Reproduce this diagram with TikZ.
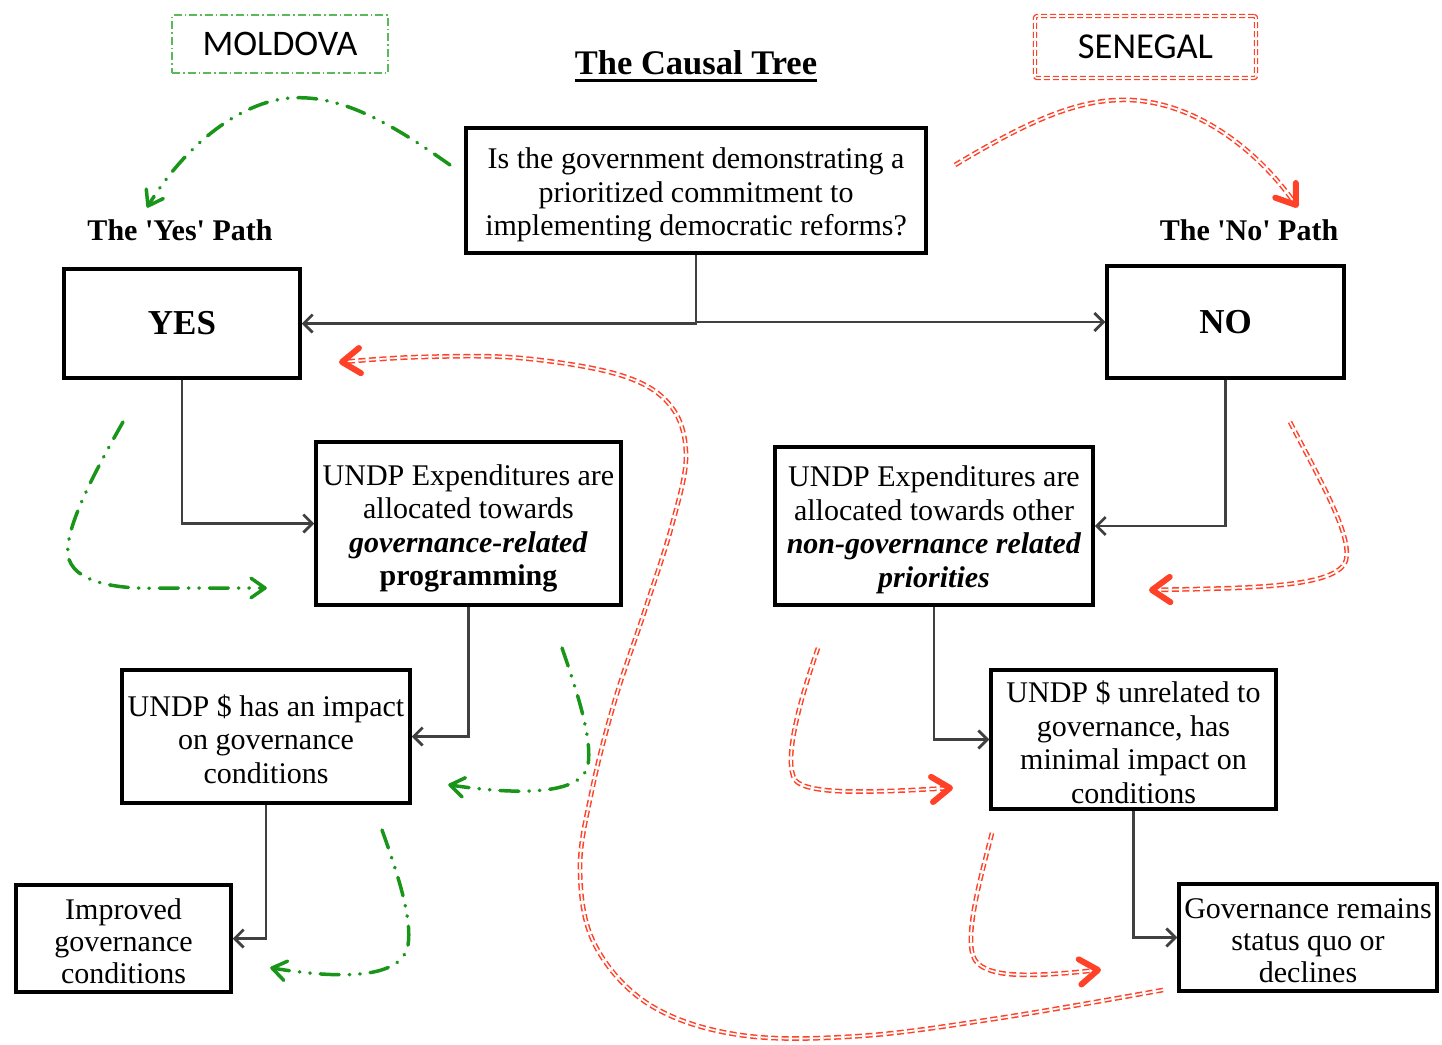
\documentclass[tikz,border=0pt]{standalone}
\usepackage{fontspec}
\setmainfont{Liberation Serif}
\newfontfamily\calibfont{Carlito}
\newfontfamily\plainserif{Liberation Serif}
\usetikzlibrary{arrows.meta,calc}
\definecolor{grn}{RGB}{25,150,25}
\definecolor{grnbox}{RGB}{90,185,90}
\definecolor{rd}{RGB}{255,65,40}
\newcommand\chevtip[4]{\draw[#1] ($(#2)!#4!35:(#3)$) -- (#2) -- ($(#2)!#4!-35:(#3)$);}
\begin{document}
\begin{tikzpicture}[x=1pt,y=-1pt,
  box/.style={draw=black, line width=3.5pt, fill=white, inner sep=0pt, align=center, font=\fontsize{30}{33.5}\selectfont},
  conn/.style={draw=black!75, line width=2.7pt, -{Straight Barb[length=9pt,width=18pt,line width=2.7pt]}},
  gpath/.style={draw=grn, line width=3.5pt, dash pattern=on 19pt off 10pt on 0.5pt off 10pt on 0.5pt off 10pt, line cap=round},
  gtip/.style={draw=grn, line width=3.5pt, line cap=round, line join=round},
  rpath/.style={draw=rd, line width=1.5pt, double=white, double distance=1.7pt, dash pattern=on 7pt off 3.5pt},
  rtip/.style={draw=rd, line width=6pt, line cap=round, line join=round},
  pathlabel/.style={inner sep=0pt, font=\plainserif\fontsize{30}{32}\selectfont\bfseries}
]
\useasboundingbox (0,0) rectangle (1442,1044);

% country labels
\node[draw=grnbox, line width=1.5pt, dash pattern=on 8pt off 3pt on 1.5pt off 3pt, minimum width=216pt, minimum height=58pt, inner sep=0pt, font=\calibfont\fontsize{36}{38}\selectfont] (moldova) at (280,44) {MOLDOVA};
\node[draw=rd, line width=1.3pt, double=white, double distance=1.6pt, dash pattern=on 6pt off 3pt, rounded corners=2pt, minimum width=221pt, minimum height=62pt, inner sep=0pt, font=\calibfont\fontsize{36.5}{38}\selectfont] (senegal) at (1145.5,47) {SENEGAL};

% title
\node[inner sep=0pt, font=\fontsize{34.5}{36}\selectfont\bfseries] (title) at (696,63) {The Causal Tree};
\draw[line width=2.7pt] ([yshift=-6pt]title.base west) -- ([yshift=-6pt]title.base east);

% path labels
\node[pathlabel] (yeslab) at (180,230) {The 'Yes' Path};
\node[pathlabel] (nolab) at (1249,230) {The 'No' Path};

% boxes
\node[box, minimum width=460pt, minimum height=125pt] (q) at (696,190.5)
  {\rule{0pt}{30pt}Is the government demonstrating a\\prioritized commitment to\\implementing democratic reforms?};
\node[box, minimum width=236pt, minimum height=109pt, font=\fontsize{35}{38}\selectfont\bfseries] (yes) at (182,323.5) {YES};
\node[box, minimum width=237pt, minimum height=112pt, font=\fontsize{35}{38}\selectfont\bfseries] (no) at (1225.5,322) {NO};
\node[box, minimum width=305pt, minimum height=163pt] (expl) at (468.5,523.5)
  {\rule{0pt}{31pt}UNDP Expenditures are\\allocated towards\\\textbf{\textit{governance-related}}\\\textbf{programming}};
\node[box, minimum width=318pt, minimum height=158pt] (expr) at (934,526)
  {\rule{0pt}{28pt}UNDP Expenditures are\\allocated towards other\\\textbf{\textit{non-governance related}}\\\textbf{\textit{priorities}}};
\node[box, minimum width=288pt, minimum height=133pt] (impl) at (266,736.5)
  {\rule{0pt}{27pt}UNDP \$ has an impact\\on governance\\conditions};
\node[box, minimum width=215pt, minimum height=107pt, font=\fontsize{30}{32}\selectfont] (impr) at (123.5,938.5)
  {\rule{0pt}{27pt}Improved\\governance\\conditions};
\node[box, minimum width=285pt, minimum height=139pt] (unrel) at (1133.5,739.5)
  {\rule{0pt}{27pt}UNDP \$ unrelated to\\governance, has\\minimal impact on\\conditions};
\node[box, minimum width=258pt, minimum height=107pt, font=\fontsize{30}{32}\selectfont] (remain) at (1308,937.5)
  {\rule{0pt}{27pt}Governance remains\\status quo or\\declines};

% connectors
\draw[conn] (q.south) |- (yes.east);
\draw[conn] (q.south) |- (no.west);
\draw[conn] (yes.south) |- (expl.west);
\draw[conn] (no.south) |- (expr.east);
\draw[conn] (expl.south) |- (impl.east);
\draw[conn] (impl.south) |- (impr.east);
\draw[conn] (expr.south) |- (unrel.west);
\draw[conn] (unrel.south) |- (remain.west);

% green (Moldova) annotation arrows
\coordinate (g1s) at (450,165); \coordinate (g1e) at (148,206); \coordinate (g1b) at (178,152);
\draw[gpath] (g1s) .. controls (380,115) and (335,95) .. (290,98) .. controls (240,102) and (185,145) .. (g1e);
\chevtip{gtip}{g1e}{g1b}{17pt}
\coordinate (g2s) at (123,422); \coordinate (g2e) at (265,588); \coordinate (g2b) at (235,588);
\draw[gpath] (g2s) .. controls (90,480) and (65,530) .. (68,555) .. controls (72,582) and (115,590) .. (165,588) -- (g2e);
\chevtip{gtip}{g2e}{g2b}{17pt}
\coordinate (g3s) at (562,648); \coordinate (g3e) at (450,785); \coordinate (g3b) at (485,791);
\draw[gpath] (g3s) .. controls (580,700) and (592,740) .. (588,765) .. controls (583,792) and (530,797) .. (g3e);
\chevtip{gtip}{g3e}{g3b}{17pt}
\coordinate (g4s) at (382,830); \coordinate (g4e) at (272,968); \coordinate (g4b) at (307,975);
\draw[gpath] (g4s) .. controls (400,880) and (412,920) .. (408,945) .. controls (402,978) and (345,980) .. (g4e);
\chevtip{gtip}{g4e}{g4b}{17pt}

% red (Senegal) annotation arrows
\coordinate (r1s) at (955,165); \coordinate (r1e) at (1296,205); \coordinate (r1b) at (1266,163);
\draw[rpath] (r1s) .. controls (1030,120) and (1080,98) .. (1130,100) .. controls (1200,103) and (1262,155) .. (r1e);
\chevtip{rtip}{r1e}{r1b}{22pt}
\coordinate (r2s) at (1163,990); \coordinate (r2e) at (342,362); \coordinate (r2b) at (380,359);
\draw[rpath] plot[smooth, tension=0.6] coordinates {(1163,990) (1000,1018) (860,1036) (740,1035) (650,1005) (595,945) (580,870) (592,790) (615,700) (645,610) (672,525) (686,455) (670,405) (620,375) (520,358) (420,357) (342,362)};
\chevtip{rtip}{r2e}{r2b}{22pt}
\coordinate (r3s) at (1290,422); \coordinate (r3e) at (1152,590); \coordinate (r3b) at (1190,589);
\draw[rpath] (r3s) .. controls (1320,480) and (1352,535) .. (1346,560) .. controls (1338,588) and (1250,588) .. (r3e);
\chevtip{rtip}{r3e}{r3b}{22pt}
\coordinate (r4s) at (818,648); \coordinate (r4e) at (950,788); \coordinate (r4b) at (912,791);
\draw[rpath] (r4s) .. controls (800,700) and (783,760) .. (795,780) .. controls (808,796) and (880,792) .. (r4e);
\chevtip{rtip}{r4e}{r4b}{22pt}
\coordinate (r5s) at (992,833); \coordinate (r5e) at (1098,970); \coordinate (r5b) at (1060,974);
\draw[rpath] (r5s) .. controls (980,880) and (963,940) .. (975,960) .. controls (988,980) and (1040,976) .. (r5e);
\chevtip{rtip}{r5e}{r5b}{22pt}
\end{tikzpicture}
\end{document}
